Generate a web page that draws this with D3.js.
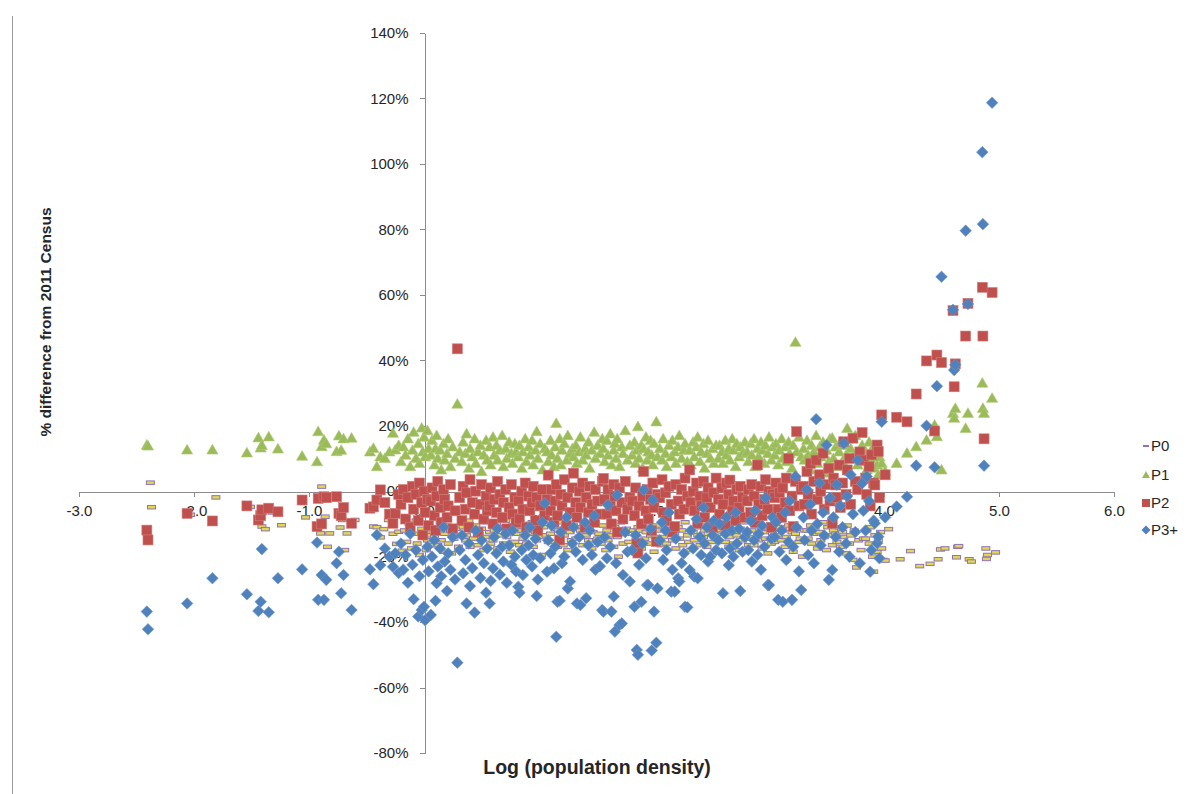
<!DOCTYPE html>
<html>
<head>
<meta charset="utf-8">
<script src="https://cdn.jsdelivr.net/npm/d3@7"></script>
<style>
  body { margin: 0; background: #fff; }
  svg { display: block; }
  .axis path, .axis line { stroke: #8c8c8c; stroke-width: 1; shape-rendering: crispEdges; }
  .axis text { font: 15px "Liberation Sans", Arial, sans-serif; fill: #262626; }
  .title { font-family: "Liberation Sans", Arial, sans-serif; font-weight: bold; fill: #262626; }
  .legend text { font: 15px "Liberation Sans", Arial, sans-serif; fill: #262626; }
</style>
</head>
<body>
<svg id="chart" width="1198" height="794"></svg>
<script>
// Axis ticks
const xTicks = [-3, -2, -1, 0, 1, 2, 3, 4, 5, 6];
const yTicks = [-80, -60, -40, -20, 0, 20, 40, 60, 80, 100, 120, 140];
const seriesNames = ["P0", "P1", "P2", "P3+"];

// Log of population density for each area (shared by all four series)
const logDensity = [
  -2.41,-2.40,-2.06,-1.84,-1.54,-1.44,-1.42,-1.41,-1.35,-1.27,-1.06,-0.93,-0.92,-0.89,-0.87,-0.85,-0.76,-0.74,-0.72,-0.70,-0.63,-0.47,-0.44,-0.41,-0.38,-0.34,-0.30,-0.27,-0.25,-0.22,
  -0.20,-0.18,-0.16,-0.14,-0.12,-0.10,-0.09,-0.07,-0.05,-0.04,-0.02,-0.01,0.00,0.01,0.03,0.04,
  0.06,0.07,0.09,0.10,0.11,0.12,0.14,0.15,0.17,0.18,0.20,0.21,0.23,0.25,0.27,0.29,
  0.31,0.33,0.34,0.36,0.37,0.39,0.40,0.42,0.44,0.45,0.47,0.49,0.50,0.52,0.54,0.55,
  0.57,0.58,0.60,0.61,0.63,0.64,0.66,0.68,0.69,0.71,0.72,0.74,0.76,0.77,0.79,0.80,
  0.82,0.83,0.85,0.86,0.88,0.89,0.91,0.92,0.94,0.95,0.97,0.98,0.99,1.01,1.03,1.05,
  1.07,1.08,1.10,1.11,1.13,1.14,1.15,1.16,1.18,1.19,1.20,1.22,1.24,1.25,1.27,1.29,
  1.30,1.32,1.33,1.35,1.36,1.38,1.40,1.41,1.43,1.44,1.46,1.48,1.49,1.51,1.53,1.55,
  1.56,1.57,1.59,1.60,1.62,1.63,1.65,1.66,1.67,1.68,1.70,1.72,1.73,1.75,1.77,1.79,
  1.81,1.83,1.84,1.85,1.86,1.87,1.89,1.90,1.91,1.93,1.94,1.95,1.97,1.98,1.99,2.00,2.02,2.03,
  2.05,2.07,2.08,2.10,2.11,2.13,2.15,2.16,2.18,2.19,2.21,2.22,2.24,2.26,2.27,2.29,
  2.31,2.32,2.34,2.35,2.37,2.38,2.40,2.41,2.43,2.44,2.46,2.47,2.49,2.51,2.52,2.54,
  2.56,2.57,2.59,2.60,2.62,2.63,2.65,2.66,2.68,2.69,2.71,2.72,2.74,2.75,2.77,2.79,
  2.81,2.82,2.84,2.85,2.87,2.88,2.90,2.91,2.93,2.94,2.96,2.97,2.99,3.00,3.02,3.03,
  3.05,3.06,3.08,3.09,3.11,3.12,3.14,3.15,3.17,3.18,3.20,3.21,3.23,3.24,3.26,3.28,
  3.30,3.31,3.33,3.34,3.36,3.37,3.39,3.41,3.42,3.44,3.45,3.47,3.48,3.50,3.52,3.53,
  3.55,3.56,3.58,3.59,3.61,3.62,3.64,3.65,3.67,3.68,3.70,3.71,3.73,3.75,3.77,3.79,
  3.81,3.82,3.84,3.85,3.87,3.88,3.89,3.91,3.92,3.94,3.95,3.96,
  3.98,4.01,4.11,4.20,4.28,4.37,4.44,4.46,4.50,4.60,4.61,4.62,4.71,4.73,4.855,4.86,4.87,4.94
];

// % difference from 2011 Census, P0
const p0 = [
  2.6,-4.9,-7.2,-1.9,-4.8,-10.8,-6.0,-11.6,-6.5,-10.4,-8.0,-12.9,1.4,-7.8,-17.0,-12.9,-11.1,-8.8,-18.0,-12.9,-8.8,-10.8,-11.0,-14.1,-11.6,-8.8,-13.0,-16.1,-12.4,-18.2,
  -12.0,-15.5,-10.0,-17.5,-13.0,-9.0,-16.0,-19.5,-11.5,-14.0,-12.5,-18.0,-15.0,-10.5,-13.5,-16.5,
  -14.0,-11.0,-16.5,-12.5,-9.5,-15.0,-18.5,-13.0,-10.5,-16.0,-12.0,-19.0,-14.5,-11.5,-17.0,-13.5,
  -11.0,-15.0,-13.5,-9.0,-17.0,-12.0,-14.5,-10.5,-16.5,-13.0,-11.5,-18.0,-9.5,-14.0,-12.5,-16.0,
  -15.0,-12.0,-10.0,-17.5,-13.5,-11.0,-16.0,-9.0,-14.0,-12.5,-18.5,-10.5,-15.5,-13.0,-11.5,-16.5,
  -12.0,-14.5,-10.0,-16.0,-11.5,-13.0,-9.5,-17.0,-12.5,-15.0,-10.5,-14.0,-19.5,-11.0,-13.5,-15.5,
  -13.0,-10.0,-15.5,-11.5,-17.0,-12.0,-14.0,-9.5,-16.5,-13.5,-11.0,-18.0,-12.5,-15.0,-10.5,-14.5,
  -11.0,-14.0,-12.0,-16.5,-10.0,-13.5,-15.0,-11.5,-17.5,-12.5,-9.5,-14.5,-13.0,-16.0,-10.5,-18.0,
  -12.0,-15.0,-10.5,-13.5,-17.0,-11.0,-14.0,-20.0,-12.5,-9.5,-16.0,-13.0,-11.5,-15.5,-18.0,-12.0,
  -13.0,-11.0,-15.5,-12.0,-17.5,-10.0,-14.5,-12.5,-9.5,-16.0,-13.5,-11.5,-18.5,-14.0,-10.5,-15.0,-12.0,-16.5,
  -14.0,-11.5,-16.0,-12.5,-10.0,-15.0,-13.0,-17.5,-11.0,-14.5,-12.0,-16.5,-9.5,-13.5,-15.5,-18.0,
  -12.5,-15.0,-11.0,-13.5,-16.5,-10.5,-14.0,-12.0,-17.0,-13.0,-9.5,-15.5,-11.5,-14.5,-18.5,-12.0,
  -13.0,-11.0,-15.5,-12.0,-17.0,-14.0,-10.0,-16.0,-12.5,-13.5,-18.0,-11.5,-15.0,-9.5,-14.5,-16.5,
  -14.0,-12.0,-16.5,-10.5,-13.5,-15.0,-11.0,-17.5,-12.5,-14.5,-19.0,-11.5,-16.0,-13.0,-15.5,-10.0,
  -13.5,-11.0,-15.0,-12.0,-17.0,-14.0,-10.5,-16.0,-12.5,-18.5,-13.0,-11.5,-15.5,-14.5,-20.0,-12.0,
  -12.0,-14.5,-10.5,-16.0,-13.0,-11.5,-17.5,-12.5,-15.0,-9.5,-14.0,-18.0,-11.0,-13.5,-16.5,-12.0,
  -13.0,-15.5,-11.0,-17.0,-12.5,-14.0,-19.0,-10.5,-16.0,-13.5,-21.0,-12.0,-23.3,-15.0,-18.0,-14.5,
  -14.5,-12.0,-16.0,-11.0,-20.0,-24.6,-13.5,-18.5,-15.0,-12.5,-17.5,-21.0,
  -21.2,-11.6,-20.8,-18.3,-22.9,-22.2,-20.8,-17.8,-17.5,-20.2,-17.0,-16.8,-20.8,-21.5,-17.5,-20.7,-19.5,-18.7
];

// % difference from 2011 Census, P1
const p1 = [
  14.1,13.8,12.6,12.6,11.7,16.3,13.2,14.0,16.6,12.9,10.7,9.0,18.2,13.6,15.6,14.5,12.1,16.9,12.5,16.0,16.2,12.0,13.1,7.5,10.5,10.0,12.0,17.7,12.6,14.0,
  9.0,13.5,11.0,16.0,7.5,12.5,18.0,10.0,14.5,8.5,19.3,12.0,16.5,10.5,18.5,13.0,
  11.0,15.5,8.0,13.0,17.0,10.0,12.5,6.5,14.5,9.5,11.5,16.0,7.5,13.5,10.0,26.6,
  12.0,9.0,15.0,11.5,17.5,7.0,13.0,10.5,16.0,8.5,12.0,14.0,6.0,11.0,15.5,9.5,
  13.5,8.0,16.5,11.0,14.0,9.5,12.5,17.0,7.5,13.0,10.0,15.0,11.5,8.5,14.5,12.0,
  10.5,14.0,7.0,12.0,16.0,9.0,13.5,11.0,15.5,8.0,12.5,18.2,10.0,14.5,6.5,13.0,
  12.0,9.0,15.5,11.0,7.5,13.5,20.7,10.0,16.0,8.0,12.5,14.5,9.5,17.0,11.5,13.0,
  10.5,14.0,8.5,12.0,16.5,9.5,13.0,11.0,15.0,7.0,12.5,18.0,10.0,14.0,11.5,16.0,
  13.0,9.0,15.5,11.0,17.5,8.0,12.5,14.5,10.0,16.0,7.5,13.5,11.5,18.5,9.5,14.0,
  11.0,15.0,8.5,12.5,19.7,10.0,14.0,7.0,13.0,16.5,9.5,12.0,15.5,11.0,8.0,14.5,21.2,10.5,
  13.0,9.5,16.0,11.5,7.5,14.0,10.5,15.5,12.0,8.5,13.5,17.0,10.0,12.5,14.5,9.0,
  12.5,8.0,15.0,10.5,13.5,16.5,9.0,12.0,14.5,7.0,11.5,15.5,10.0,13.0,8.5,14.0,
  10.0,14.0,12.0,8.5,15.5,11.0,13.0,9.5,16.0,12.5,7.5,14.5,10.5,13.5,11.5,15.0,
  12.0,9.0,14.5,11.0,16.0,7.5,13.0,10.5,15.0,12.5,8.5,14.0,11.5,16.5,9.5,13.5,
  11.0,14.5,8.0,12.5,16.0,10.0,13.5,9.0,15.0,11.5,7.0,14.0,45.5,12.0,16.5,10.5,
  13.0,9.5,15.5,11.0,6.5,14.0,12.0,17.0,8.5,13.5,10.5,15.0,5.5,12.5,9.0,16.0,
  16.2,10.0,13.5,7.5,12.0,15.0,9.0,14.0,11.0,19.2,6.0,13.0,10.5,17.0,8.0,12.5,
  14.0,9.0,11.5,6.5,15.0,10.0,12.5,7.0,13.0,8.0,5.0,10.5,
  8.5,6.0,8.5,11.6,13.6,15.6,20.2,16.7,6.5,23.8,22.3,25.3,19.2,23.8,33.0,25.3,23.8,28.4
];

// % difference from 2011 Census, P2
const p2 = [
  -11.9,-14.9,-6.8,-9.1,-4.5,-8.8,-7.5,-5.7,-5.2,-6.3,-2.7,-10.8,-2.2,-10.0,-1.7,-2.0,-1.7,-6.8,-7.5,-5.0,-9.8,-5.2,-4.8,-2.7,0.4,-3.5,-7.0,-9.8,-6.8,-1.0,
  -4.0,0.5,-8.5,-2.0,-11.0,1.5,-5.5,-1.0,-9.0,2.5,-3.5,-13.4,0.0,-6.5,-2.5,-10.5,
  -3.0,1.0,-7.5,-12.0,-1.5,3.0,-5.0,-9.5,0.5,-2.5,-8.0,-4.5,2.0,-11.5,-6.0,43.5,
  -2.0,-9.0,1.5,-5.5,-0.5,-11.0,3.5,-3.5,-7.0,0.0,-12.5,-4.0,2.0,-8.5,-1.5,-6.0,
  -4.5,1.0,-10.0,-2.5,-6.5,3.0,-1.0,-8.0,-3.5,0.5,-11.5,-5.0,2.0,-7.0,-2.0,-9.5,
  -3.0,-8.5,0.0,-5.5,2.5,-11.0,-1.5,-6.0,-3.5,1.5,-9.0,-2.0,-12.0,-4.5,0.5,-7.5,
  -2.5,4.9,-6.0,0.5,-9.5,-3.0,2.0,-7.5,-14.9,-1.0,-4.5,3.5,-10.5,-2.0,-6.5,1.0,
  5.5,-3.5,-8.0,0.0,-5.0,2.5,-11.0,-2.0,-6.5,1.5,-4.0,-9.5,0.5,-3.0,-7.0,3.0,
  3.9,-2.5,-7.0,0.5,-4.5,-10.0,2.0,-1.5,-6.0,-12.5,1.0,-3.5,-8.5,3.0,-5.5,-2.0,
  -3.0,-7.5,1.0,-15.9,-18.9,-4.5,-10.0,-1.5,6.0,-6.0,0.5,-8.5,-2.5,-12.0,2.5,-5.0,-15.4,-1.0,
  -2.0,3.5,-6.5,-0.5,-9.0,1.5,-4.0,-12.5,-10.8,2.0,-3.0,-7.0,0.5,-5.5,4.0,-1.5,
  6.5,-3.5,0.0,-6.0,2.5,-9.8,-1.5,-4.5,3.0,-8.0,-2.0,1.0,-5.0,-11.0,-0.5,4.0,
  -2.5,-7.0,1.0,-4.0,-10.5,2.5,-1.0,3.4,-6.0,-3.0,-9.0,0.5,-5.0,1.5,-2.0,-8.0,
  -3.0,0.5,-6.5,2.0,-1.5,-9.5,8.0,-4.0,1.5,-7.5,-2.5,3.5,-5.5,0.0,-11.0,-1.0,
  -2.0,2.5,-5.5,-0.5,-8.0,1.0,-3.5,4.0,10.0,-6.0,-1.5,-10.8,3.0,18.2,-4.5,0.5,
  1.5,-4.0,6.0,-1.0,8.5,-7.0,3.0,9.5,-2.5,5.0,0.0,11.6,-5.5,2.0,7.0,-3.0,
  -9.8,4.0,1.9,-2.0,8.0,-5.0,2.5,15.1,-1.0,6.5,10.0,-4.0,16.2,3.0,0.5,12.0,
  17.9,9.5,4.0,-1.0,7.5,-4.5,11.1,2.5,1.9,14.1,12.1,-2.0,
  23.3,5.0,22.6,21.2,29.7,39.8,18.4,41.6,39.3,55.2,31.9,38.9,47.4,57.4,62.3,47.4,16.0,60.7
];

// % difference from 2011 Census, P3+
const p3 = [
  -36.8,-42.2,-34.3,-26.6,-31.5,-36.6,-33.8,-17.7,-37.0,-26.6,-23.9,-15.7,-33.2,-25.6,-33.2,-27.1,-22.0,-18.5,-31.2,-25.6,-36.3,-23.9,-28.4,-13.4,-22.6,-17.5,-20.0,-23.1,-19.0,-25.0,
  -16.0,-24.0,-19.5,-28.0,-13.0,-22.5,-33.0,-18.0,-38.3,-26.0,-36.3,-21.0,-35.3,-39.4,-17.0,-24.5,
  -37.8,-20.0,-15.0,-33.5,-28.1,-23.0,-17.5,-26.0,-11.0,-21.5,-30.5,-19.0,-24.0,-14.0,-27.0,-52.4,
  -18.0,-13.5,-25.1,-21.0,-34.3,-16.0,-29.0,-23.5,-37.1,-12.0,-19.5,-26.5,-15.0,-22.0,-31.0,-17.5,
  -34.3,-27.4,-23.6,-14.0,-19.0,-11.5,-25.5,-17.0,-21.5,-13.0,-28.0,-16.5,-22.5,-12.0,-20.0,-24.5,
  -29.2,-31.0,-18.0,-25.6,-13.5,-21.0,-16.5,-11.0,-23.0,-19.5,-14.5,-32.0,-27.0,-20.5,-9.5,-3.7,
  -24.6,-15.0,-19.0,-10.5,-23.6,-17.0,-44.5,-33.8,-33.5,-12.5,-22.0,-20.0,-8.0,-29.7,-27.6,-16.0,
  -11.0,-18.5,-34.3,-14.0,-34.8,-21.0,-9.5,-32.7,-16.5,-12.0,-19.5,-7.5,-24.0,-15.5,-22.9,-36.3,
  -36.8,-14.0,-20.5,-4.2,-17.0,-36.8,-32.2,-42.9,-22.0,-1.2,-40.9,-40.4,-25.6,-12.5,-18.5,-27.6,
  -18.0,-35.3,-13.5,-48.5,-50.0,-22.5,-33.8,-16.0,0.4,-20.5,-28.7,-28.7,-11.5,-48.7,-2.7,-36.8,-46.3,-29.7,
  -15.0,-9.5,-21.0,-12.0,-18.0,-6.5,-30.7,-24.0,-30.7,-14.5,-26.6,-27.6,-22.0,-19.0,-35.3,-35.5,
  -24.1,-12.0,-17.5,-26.1,-8.5,-26.6,-14.0,-19.5,-5.0,-16.0,-11.0,-21.5,-20.0,-13.5,-9.0,-18.0,
  -15.0,-10.0,-19.0,-31.2,-13.0,-8.0,-22.6,-17.5,-12.0,-20.0,-6.5,-16.0,-11.5,-30.5,-18.5,-14.0,
  -12.5,-18.0,-9.0,-21.5,-15.0,-6.0,-19.5,-13.0,-24.0,-10.5,-17.0,-2.0,-28.7,-28.7,-14.5,-8.0,
  -14.0,-9.5,-33.2,-18.5,-12.0,-33.8,-6.5,-21.0,-15.5,-3.0,-33.2,-17.0,4.5,-11.0,-24.5,-30.2,
  -8.0,-15.0,0.5,-19.5,-4.0,-12.0,-22.0,22.0,-10.0,2.5,-16.5,-6.5,-13.5,14.1,-27.1,-2.0,
  -24.1,-8.0,-14.0,2.0,-18.5,-4.5,-11.0,14.6,-16.0,-1.5,-20.0,5.0,-7.0,-12.5,9.5,-22.0,
  2.4,-6.0,-12.0,4.5,-3.0,-24.6,-18.0,-9.0,-9.8,-15.9,-13.9,-20.5,
  21.2,-8.0,-4.7,-1.7,7.8,20.0,7.3,32.1,65.5,55.4,37.0,38.6,79.6,57.2,103.6,81.6,7.8,118.7
];

const svg = d3.select("#chart");

const x = d3.scaleLinear().domain([-3, 6]).range([79, 1114]);
const y = d3.scaleLinear().domain([-80, 140]).range([753, 33]);

// thin frame edge on the left
svg.append("line")
  .attr("x1", 12.5).attr("x2", 12.5).attr("y1", 16).attr("y2", 794)
  .attr("stroke", "#9a9a9a").attr("stroke-width", 1);

// axes cross at the origin
svg.append("g")
  .attr("class", "axis")
  .attr("transform", `translate(0,${Math.round(y(0)) + 0.5})`)
  .call(d3.axisBottom(x).tickValues(xTicks).tickSize(5).tickSizeOuter(0)
    .tickPadding(9).tickFormat(d => d.toFixed(1)));

svg.append("g")
  .attr("class", "axis")
  .attr("transform", `translate(${x(0) + 0.5},0)`)
  .call(d3.axisLeft(y).tickValues(yTicks).tickSize(5).tickSizeOuter(0)
    .tickPadding(11).tickFormat(d => `${d}%`));

// axis titles
svg.append("text").attr("class", "title")
  .attr("x", 597).attr("y", 774).attr("text-anchor", "middle")
  .style("font-size", "19.5px")
  .text("Log (population density)");

svg.append("text").attr("class", "title")
  .attr("transform", "translate(51,322) rotate(-90)")
  .attr("text-anchor", "middle")
  .style("font-size", "15.5px")
  .text("% difference from 2011 Census");

const areas = logDensity.map((d, i) => ({ x: d, p0: p0[i], p1: p1[i], p2: p2[i], p3: p3[i] }));

// marker shapes
const triPath = "M0,-5.6L5.6,4.1L-5.6,4.1Z";
const diaPath = "M0,-5.8L5.8,0L0,5.8L-5.8,0Z";

const colors = {
  p0fill: "#e2d74f", p0stroke: "#8e72b8",
  p1: "#9bbb59", p1stroke: "#aecb78",
  p2: "#c0504d", p2stroke: "#d07c79",
  p3: "#4f81bd", p3stroke: "#7099cb"
};

// P0 dashes (drawn first, the other series sit over them)
svg.append("g").selectAll("rect").data(areas).join("rect")
  .attr("x", d => x(d.x) - 0.5).attr("y", d => y(d.p0) - 1.75)
  .attr("width", 8).attr("height", 3.5)
  .attr("fill", colors.p0fill).attr("stroke", colors.p0stroke).attr("stroke-width", 1);

// P1 triangles
svg.append("g").selectAll("path").data(areas).join("path")
  .attr("d", triPath)
  .attr("transform", d => `translate(${x(d.x)},${y(d.p1)})`)
  .attr("fill", colors.p1).attr("stroke", colors.p1stroke).attr("stroke-width", 0.6);

// P2 squares
svg.append("g").selectAll("rect").data(areas).join("rect")
  .attr("x", d => x(d.x) - 5).attr("y", d => y(d.p2) - 5)
  .attr("width", 10).attr("height", 10)
  .attr("fill", colors.p2).attr("stroke", colors.p2stroke).attr("stroke-width", 0.6);

// P3+ diamonds
svg.append("g").selectAll("path").data(areas).join("path")
  .attr("d", diaPath)
  .attr("transform", d => `translate(${x(d.x)},${y(d.p3)})`)
  .attr("fill", colors.p3).attr("stroke", colors.p3stroke).attr("stroke-width", 0.6);

// legend
const legendY = [446, 475, 503, 530];
const legend = svg.append("g").attr("class", "legend");
const items = legend.selectAll("g").data(seriesNames).join("g")
  .attr("transform", (d, i) => `translate(1146,${legendY[i]})`);

items.each(function (d, i) {
  const g = d3.select(this);
  if (i === 0) {
    g.append("rect").attr("x", -3).attr("y", -1).attr("width", 6).attr("height", 2).attr("fill", colors.p0stroke);
  } else if (i === 1) {
    g.append("path").attr("d", "M0,-4L4,3L-4,3Z").attr("fill", colors.p1);
  } else if (i === 2) {
    g.append("rect").attr("x", -4).attr("y", -4).attr("width", 8).attr("height", 8).attr("fill", colors.p2);
  } else {
    g.append("path").attr("d", "M0,-4.5L4.5,0L0,4.5L-4.5,0Z").attr("fill", colors.p3);
  }
  g.append("text").attr("x", 5).attr("dy", "0.36em").text(d);
});
</script>
</body>
</html>
